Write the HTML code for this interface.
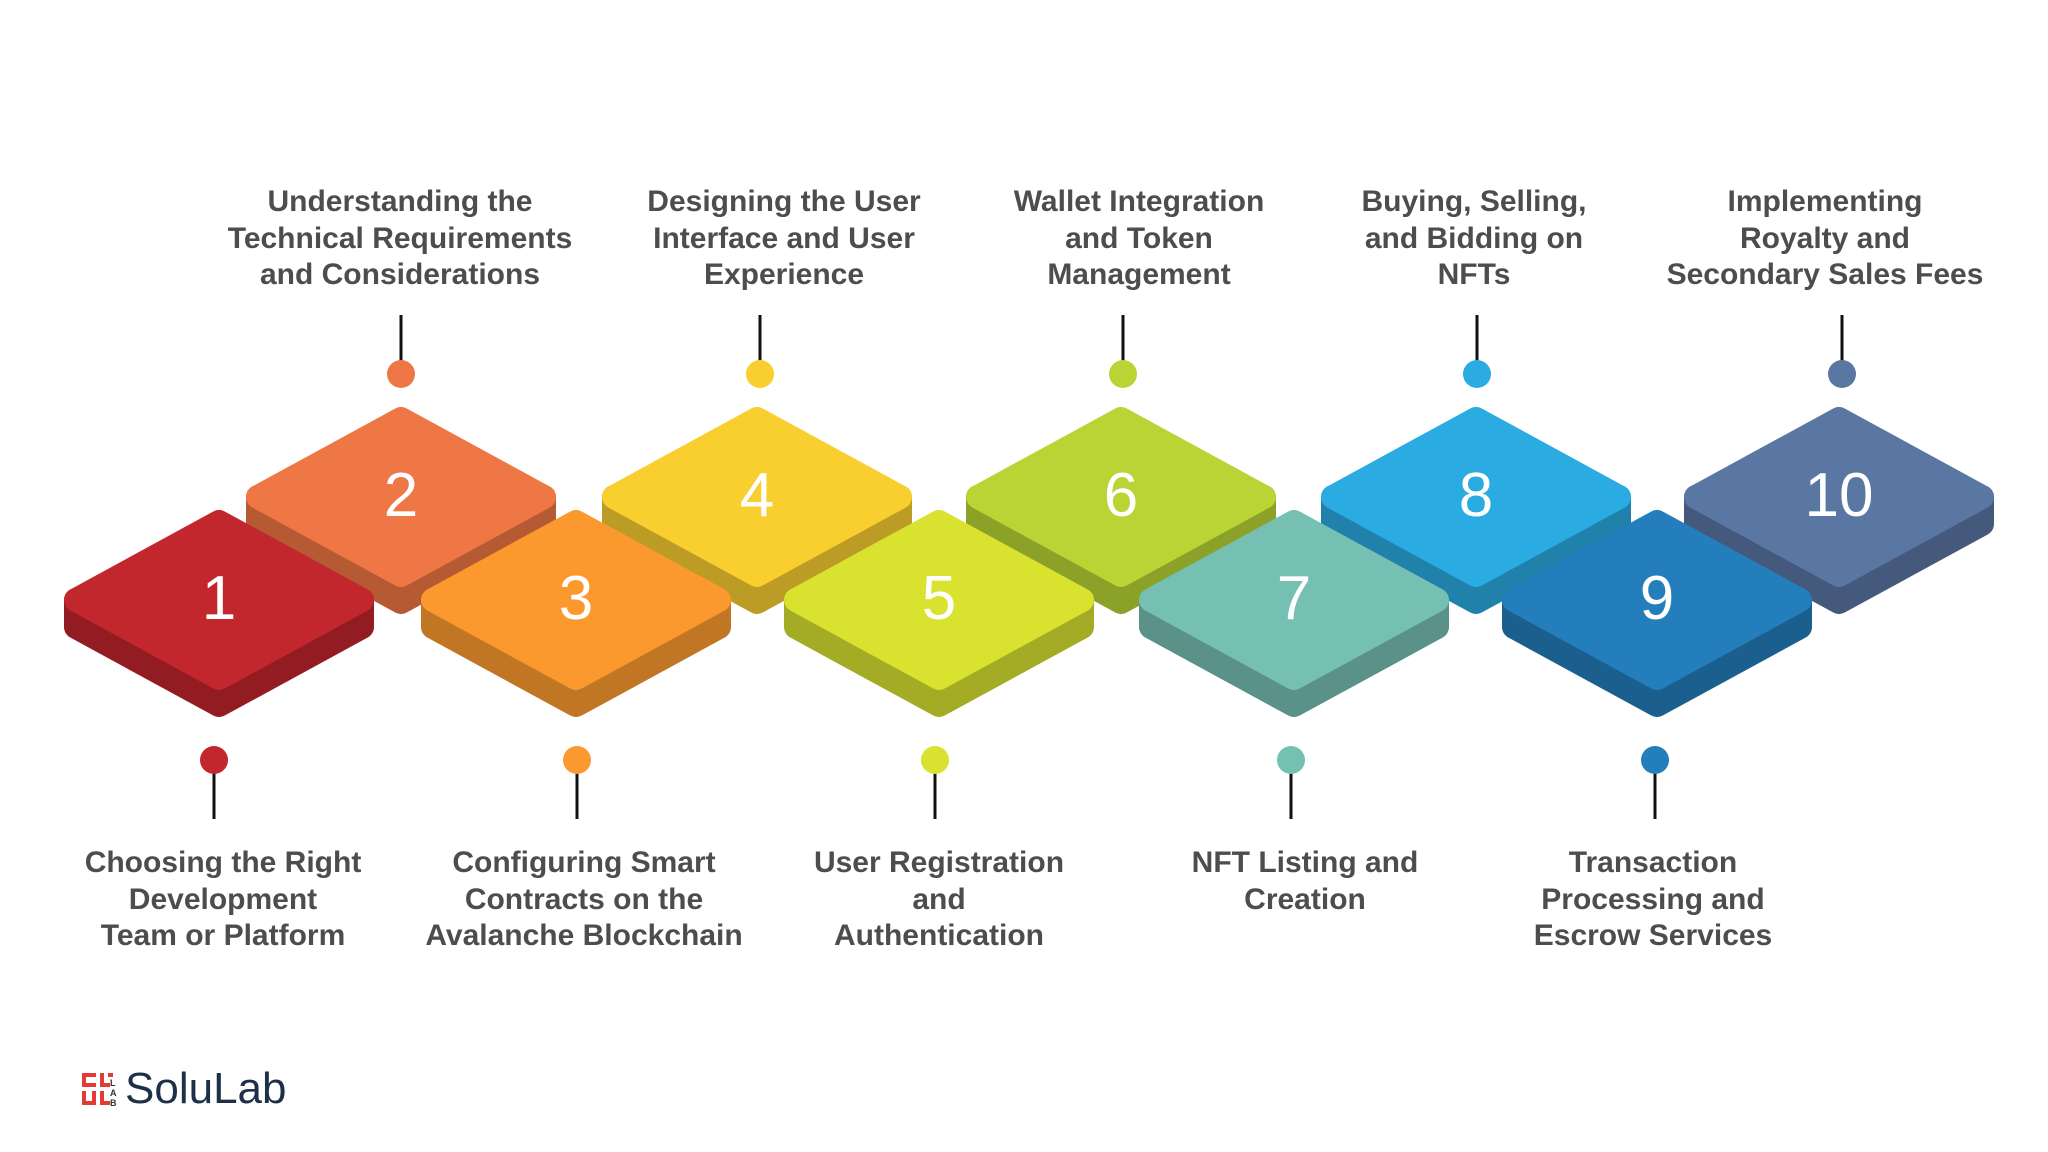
<!DOCTYPE html>
<html><head><meta charset="utf-8"><style>
html,body{margin:0;padding:0;background:#fff;}
svg{display:block}
.t{font-family:"Liberation Sans",sans-serif;font-weight:bold;font-size:30px;fill:#4d4d4d;text-anchor:middle}
.n{font-family:"Liberation Sans",sans-serif;font-size:62px;fill:#fff;text-anchor:middle}
</style></head><body>
<svg width="2048" height="1152" viewBox="0 0 2048 1152" xmlns="http://www.w3.org/2000/svg">
<defs>
<polygon id="side" points="-143,0 0,78 143,0 143,27 0,105 -143,27"/>
<polygon id="top" points="-143,0 0,-78 143,0 0,78"/>
</defs>
<g stroke-linejoin="round" stroke-width="24">
<g transform="translate(401,497)"><use href="#side" fill="#b65a33" stroke="#b65a33"/><use href="#top" fill="#ef7645" stroke="#ef7645"/></g>
<g transform="translate(757,497)"><use href="#side" fill="#bd9c26" stroke="#bd9c26"/><use href="#top" fill="#f9ce2f" stroke="#f9ce2f"/></g>
<g transform="translate(1121,497)"><use href="#side" fill="#8ca128" stroke="#8ca128"/><use href="#top" fill="#b9d434" stroke="#b9d434"/></g>
<g transform="translate(1476,497)"><use href="#side" fill="#2082ab" stroke="#2082ab"/><use href="#top" fill="#2aace2" stroke="#2aace2"/></g>
<g transform="translate(1839,497)"><use href="#side" fill="#44597b" stroke="#44597b"/><use href="#top" fill="#5a76a2" stroke="#5a76a2"/></g>
<g transform="translate(219,600)"><use href="#side" fill="#921c22" stroke="#921c22"/><use href="#top" fill="#c1272d" stroke="#c1272d"/></g>
<g transform="translate(576,600)"><use href="#side" fill="#c07623" stroke="#c07623"/><use href="#top" fill="#fb992e" stroke="#fb992e"/></g>
<g transform="translate(939,600)"><use href="#side" fill="#a4ab25" stroke="#a4ab25"/><use href="#top" fill="#d9e22f" stroke="#d9e22f"/></g>
<g transform="translate(1294,600)"><use href="#side" fill="#5a9188" stroke="#5a9188"/><use href="#top" fill="#75bfb3" stroke="#75bfb3"/></g>
<g transform="translate(1657,600)"><use href="#side" fill="#1b5f8e" stroke="#1b5f8e"/><use href="#top" fill="#247ebb" stroke="#247ebb"/></g>
</g>
<g class="n">
<text x="401" y="516">2</text><text x="757" y="516">4</text><text x="1121" y="516">6</text><text x="1476" y="516">8</text><text x="1839" y="516">10</text>
<text x="219" y="619">1</text><text x="576" y="619">3</text><text x="939" y="619">5</text><text x="1294" y="619">7</text><text x="1657" y="619">9</text>
</g>
<g stroke="#111" stroke-width="3">
<line x1="401" y1="315" x2="401" y2="362"/><line x1="760" y1="315" x2="760" y2="362"/><line x1="1123" y1="315" x2="1123" y2="362"/><line x1="1477" y1="315" x2="1477" y2="362"/><line x1="1842" y1="315" x2="1842" y2="362"/>
<line x1="214" y1="770" x2="214" y2="819"/><line x1="577" y1="770" x2="577" y2="819"/><line x1="935" y1="770" x2="935" y2="819"/><line x1="1291" y1="770" x2="1291" y2="819"/><line x1="1655" y1="770" x2="1655" y2="819"/>
</g>
<circle cx="401" cy="374" r="14" fill="#ef7645"/><circle cx="760" cy="374" r="14" fill="#f9ce2f"/><circle cx="1123" cy="374" r="14" fill="#b9d434"/><circle cx="1477" cy="374" r="14" fill="#2aace2"/><circle cx="1842" cy="374" r="14" fill="#5a76a2"/>
<circle cx="214" cy="760" r="14" fill="#c1272d"/><circle cx="577" cy="760" r="14" fill="#fb992e"/><circle cx="935" cy="760" r="14" fill="#d9e22f"/><circle cx="1291" cy="760" r="14" fill="#75bfb3"/><circle cx="1655" cy="760" r="14" fill="#247ebb"/>
<g class="t">
<text x="400" y="211">Understanding the</text><text x="400" y="248">Technical Requirements</text><text x="400" y="284">and Considerations</text>
<text x="784" y="211">Designing the User</text><text x="784" y="248">Interface and User</text><text x="784" y="284">Experience</text>
<text x="1139" y="211">Wallet Integration</text><text x="1139" y="248">and Token</text><text x="1139" y="284">Management</text>
<text x="1474" y="211">Buying, Selling,</text><text x="1474" y="248">and Bidding on</text><text x="1474" y="284">NFTs</text>
<text x="1825" y="211">Implementing</text><text x="1825" y="248">Royalty and</text><text x="1825" y="284">Secondary Sales Fees</text>
<text x="223" y="872">Choosing the Right</text><text x="223" y="909">Development</text><text x="223" y="945">Team or Platform</text>
<text x="584" y="872">Configuring Smart</text><text x="584" y="909">Contracts on the</text><text x="584" y="945">Avalanche Blockchain</text>
<text x="939" y="872">User Registration</text><text x="939" y="909">and</text><text x="939" y="945">Authentication</text>
<text x="1305" y="872">NFT Listing and</text><text x="1305" y="909">Creation</text>
<text x="1653" y="872">Transaction</text><text x="1653" y="909">Processing and</text><text x="1653" y="945">Escrow Services</text>
</g>
<g fill="#e53935">
<rect x="82" y="1073" width="14" height="4"/><rect x="82" y="1073" width="4" height="12"/><rect x="82" y="1083" width="14" height="4"/><rect x="100" y="1073" width="4" height="14"/><rect x="100" y="1083" width="10" height="4"/><rect x="108" y="1073" width="5" height="4"/>
<rect x="82" y="1091" width="4" height="14"/><rect x="92" y="1091" width="4" height="14"/><rect x="82" y="1101" width="14" height="4"/><rect x="100" y="1091" width="4" height="14"/><rect x="100" y="1101" width="10" height="4"/>
</g>
<g font-family="Liberation Sans,sans-serif" font-size="9" fill="#333" font-weight="bold"><text x="110" y="1086">L</text><text x="110" y="1096">A</text><text x="110" y="1106">B</text></g>
<text x="125" y="1103" font-family="Liberation Sans,sans-serif" font-size="44" fill="#1e3048">SoluLab</text>
</svg>
</body></html>
